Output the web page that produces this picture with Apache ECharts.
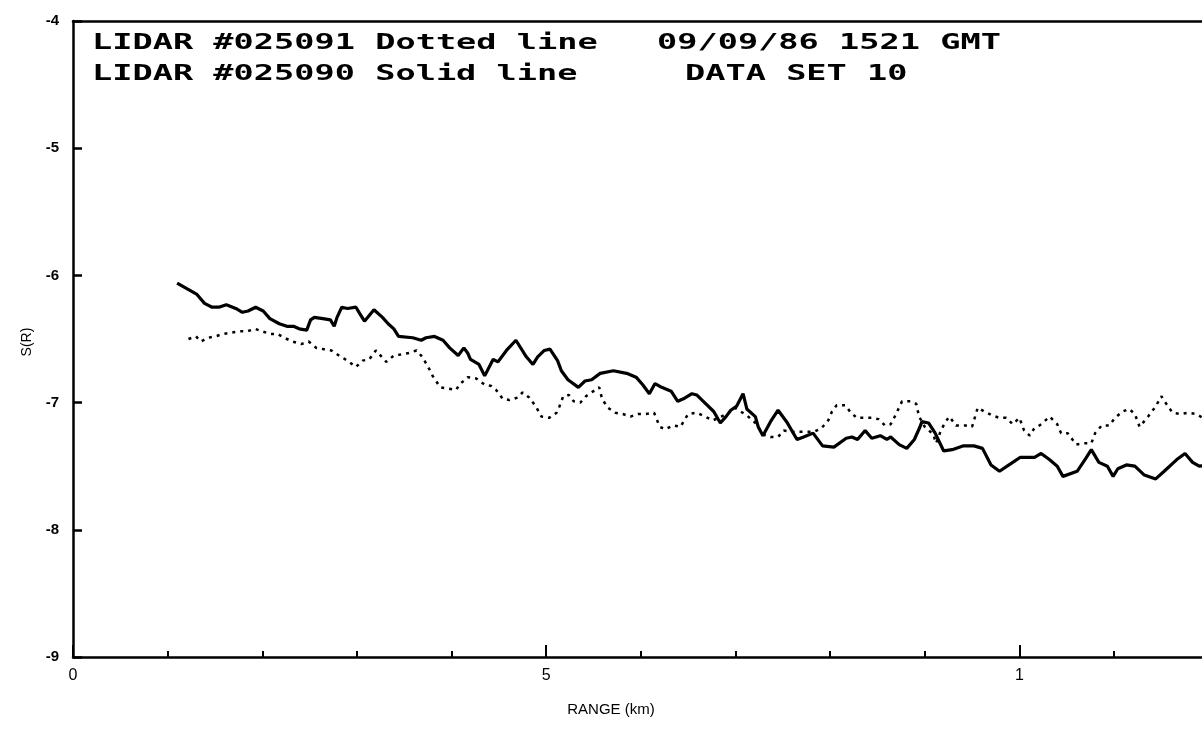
<!DOCTYPE html>
<html>
<head>
<meta charset="utf-8">
<script src="https://cdn.jsdelivr.net/npm/echarts@6/dist/echarts.min.js"></script>
<style>
html,body{margin:0;padding:0;background:#fff;}
#chart{width:1202px;height:736px;}
</style>
</head>
<body>
<div id="chart"></div>
<script>
// ---- data ----
const rangeSolid = [0.110,0.131,0.139,0.147,0.154,0.162,0.172,0.179,0.185,0.193,
0.201,0.208,0.218,0.226,0.233,0.239,0.247,0.251,0.255,0.264,
0.272,0.276,0.279,0.284,0.290,0.299,0.303,0.308,0.318,0.327,
0.333,0.339,0.344,0.359,0.368,0.373,0.382,0.391,0.398,0.407,
0.413,0.417,0.420,0.429,0.435,0.444,0.449,0.458,0.468,0.479,
0.486,0.491,0.498,0.504,0.512,0.516,0.523,0.534,0.541,0.548,
0.557,0.571,0.585,0.595,0.602,0.609,0.615,0.622,0.632,0.639,
0.645,0.654,0.659,0.666,0.677,0.684,0.690,0.695,0.701,0.708,
0.712,0.721,0.724,0.729,0.737,0.745,0.754,0.765,0.772,0.782,
0.792,0.804,0.817,0.823,0.829,0.837,0.844,0.853,0.860,0.864,
0.873,0.881,0.889,0.895,0.897,0.904,0.911,0.920,0.929,0.941,
0.952,0.961,0.970,0.979,0.989,1.001,1.016,1.023,1.032,1.040,
1.046,1.061,1.070,1.076,1.084,1.093,1.099,1.104,1.113,1.122,
1.132,1.144,1.153,1.166,1.175,1.183,1.190,1.199];
const sSolid = [-6.06,-6.15,-6.22,-6.25,-6.25,-6.23,-6.26,-6.29,-6.28,-6.25,
-6.28,-6.34,-6.38,-6.40,-6.40,-6.42,-6.43,-6.35,-6.33,-6.34,
-6.35,-6.40,-6.33,-6.25,-6.26,-6.25,-6.30,-6.36,-6.27,-6.33,
-6.38,-6.42,-6.48,-6.49,-6.51,-6.49,-6.48,-6.51,-6.57,-6.63,
-6.57,-6.61,-6.66,-6.70,-6.79,-6.66,-6.68,-6.59,-6.51,-6.64,
-6.70,-6.64,-6.59,-6.58,-6.67,-6.75,-6.82,-6.88,-6.83,-6.82,
-6.77,-6.75,-6.77,-6.80,-6.86,-6.93,-6.85,-6.88,-6.91,-6.99,
-6.97,-6.93,-6.94,-6.99,-7.07,-7.16,-7.11,-7.06,-7.03,-6.93,
-7.05,-7.11,-7.19,-7.26,-7.15,-7.06,-7.15,-7.29,-7.27,-7.24,
-7.34,-7.35,-7.28,-7.27,-7.29,-7.22,-7.28,-7.26,-7.29,-7.27,
-7.33,-7.36,-7.29,-7.19,-7.15,-7.16,-7.24,-7.38,-7.37,-7.34,
-7.34,-7.36,-7.49,-7.54,-7.49,-7.43,-7.43,-7.40,-7.45,-7.50,
-7.58,-7.54,-7.44,-7.37,-7.47,-7.50,-7.58,-7.52,-7.49,-7.50,
-7.57,-7.60,-7.54,-7.45,-7.40,-7.47,-7.50,-7.49];

const rangeDotted = [0.122,0.130,0.135,0.143,0.150,0.159,0.167,0.176,0.184,0.192,
0.200,0.208,0.216,0.223,0.232,0.241,0.249,0.257,0.265,0.273,
0.281,0.290,0.299,0.306,0.313,0.320,0.331,0.339,0.348,0.355,
0.363,0.369,0.376,0.380,0.388,0.396,0.405,0.408,0.417,0.426,
0.435,0.442,0.447,0.454,0.461,0.470,0.475,0.482,0.489,0.495,
0.503,0.511,0.514,0.518,0.524,0.529,0.536,0.542,0.550,0.556,
0.559,0.565,0.573,0.581,0.589,0.597,0.605,0.614,0.620,0.626,
0.634,0.642,0.645,0.650,0.659,0.668,0.676,0.685,0.693,0.699,
0.712,0.721,0.729,0.737,0.745,0.751,0.760,0.770,0.783,0.791,
0.798,0.802,0.807,0.816,0.821,0.828,0.837,0.844,0.851,0.858,
0.864,0.869,0.876,0.885,0.891,0.894,0.900,0.909,0.912,0.917,
0.922,0.926,0.933,0.943,0.950,0.956,0.963,0.971,0.979,0.986,
0.993,1.000,1.005,1.011,1.015,1.023,1.032,1.040,1.044,1.051,
1.060,1.068,1.076,1.080,1.087,1.095,1.101,1.109,1.116,1.122,
1.127,1.136,1.144,1.150,1.157,1.162,1.170,1.178,1.187,1.196];
const sDotted = [-6.50,-6.48,-6.52,-6.49,-6.48,-6.46,-6.45,-6.44,-6.44,-6.42,
-6.44,-6.46,-6.46,-6.49,-6.52,-6.54,-6.52,-6.57,-6.58,-6.59,
-6.63,-6.67,-6.72,-6.67,-6.66,-6.59,-6.68,-6.63,-6.62,-6.61,
-6.59,-6.64,-6.73,-6.79,-6.88,-6.89,-6.90,-6.86,-6.80,-6.81,
-6.86,-6.87,-6.90,-6.97,-6.98,-6.96,-6.92,-6.96,-7.03,-7.11,
-7.12,-7.08,-7.03,-6.95,-6.94,-6.99,-7.00,-6.95,-6.91,-6.88,
-6.97,-7.04,-7.08,-7.09,-7.11,-7.09,-7.09,-7.08,-7.19,-7.21,
-7.18,-7.19,-7.15,-7.09,-7.08,-7.11,-7.14,-7.11,-7.08,-7.04,
-7.10,-7.16,-7.25,-7.27,-7.27,-7.22,-7.23,-7.23,-7.23,-7.20,
-7.14,-7.07,-7.02,-7.02,-7.07,-7.12,-7.12,-7.12,-7.13,-7.18,
-7.17,-7.10,-6.99,-6.99,-7.01,-7.11,-7.19,-7.25,-7.32,-7.22,
-7.15,-7.11,-7.18,-7.18,-7.19,-7.04,-7.07,-7.10,-7.12,-7.12,
-7.17,-7.12,-7.22,-7.26,-7.21,-7.17,-7.11,-7.17,-7.24,-7.24,
-7.33,-7.32,-7.32,-7.24,-7.18,-7.18,-7.12,-7.07,-7.05,-7.09,
-7.19,-7.11,-7.03,-6.95,-7.03,-7.08,-7.09,-7.08,-7.09,-7.13];

const xTickLabels = {0: '0', 0.5: '5', 1: '1'};
const yTicks = [-9, -8, -7, -6, -5, -4];
const noteLines = [
  {text: 'LIDAR #025091 Dotted line', col: 0, row: 0},
  {text: '09/09/86 1521 GMT', col: 1, row: 0},
  {text: 'LIDAR #025090 Solid line', col: 0, row: 1},
  {text: 'DATA SET 10', col: 2, row: 1}
];
const xName = 'RANGE (km)';
const yName = 'S(R)';

// ---- chart ----
const zip = (xs, ys) => xs.map((x, i) => [x, ys[i]]);
const chart = echarts.init(document.getElementById('chart'), null, {renderer: 'canvas'});

const noteX = [92, 657, 685];
const noteY = [44, 75];
const graphics = noteLines.map(n => ({
  type: 'text',
  x: noteX[n.col], y: noteY[n.row],
  scaleX: 1.6,
  style: {
    text: n.text,
    font: 'bold 21px "DejaVu Sans Mono", monospace',
    fill: '#000',
    textAlign: 'left',
    textVerticalAlign: 'middle'
  }
}));
graphics.push({
  type: 'text', x: 611, y: 710,
  style: {text: xName, font: '15px "Liberation Sans", Arial, sans-serif', fill: '#000', textAlign: 'center', textVerticalAlign: 'middle'}
});
graphics.push({
  type: 'text', x: 27, y: 342, rotation: Math.PI / 2,
  style: {text: yName, font: '14px "Liberation Sans", Arial, sans-serif', fill: '#000', textAlign: 'center', textVerticalAlign: 'middle'}
});

chart.setOption({
  animation: false,
  backgroundColor: '#fff',
  grid: {
    left: 73, top: 21, width: 1183, bottom: 79,
    outerBoundsMode: 'none', containLabel: false,
    show: false
  },
  xAxis: [{
    type: 'value', min: 0, max: 1.25, interval: 0.5, position: 'bottom',
    axisLine: {show: true, onZero: false, lineStyle: {color: '#000', width: 2.5}},
    axisTick: {show: true, inside: true, length: 12, lineStyle: {color: '#000', width: 2}},
    minorTick: {show: true, splitNumber: 5, length: 6, lineStyle: {color: '#000', width: 2}},
    splitLine: {show: false},
    axisLabel: {
      margin: 11, color: '#000', fontSize: 16, fontFamily: 'Liberation Sans, Arial, sans-serif',
      formatter: v => {
        const k = Math.round(v * 10) / 10;
        return xTickLabels[k] !== undefined ? xTickLabels[k] : '';
      }
    }
  }, {
    type: 'value', min: 0, max: 1.25, position: 'top',
    axisLine: {show: true, onZero: false, lineStyle: {color: '#000', width: 2.5}},
    axisTick: {show: false}, axisLabel: {show: false}, splitLine: {show: false}
  }],
  yAxis: {
    type: 'value', min: yTicks[0], max: yTicks[yTicks.length - 1], interval: 1,
    axisLine: {show: true, onZero: false, lineStyle: {color: '#000', width: 2.5}},
    axisTick: {show: true, inside: true, length: 9, lineStyle: {color: '#000', width: 2.5}},
    splitLine: {show: false},
    axisLabel: {margin: 14, color: '#000', fontSize: 15, fontWeight: 'bold', fontFamily: 'Liberation Sans, Arial, sans-serif'}
  },
  graphic: graphics,
  series: [
    {
      name: 'LIDAR #025090', type: 'line', data: zip(rangeSolid, sSolid),
      showSymbol: false, symbol: 'none', smooth: false,
      lineStyle: {color: '#000', width: 3.2}
    },
    {
      name: 'LIDAR #025091', type: 'line', data: zip(rangeDotted, sDotted),
      showSymbol: false, symbol: 'none', smooth: false,
      lineStyle: {color: '#000', width: 2.5, type: [3, 5]}
    }
  ]
});
</script>
</body>
</html>
